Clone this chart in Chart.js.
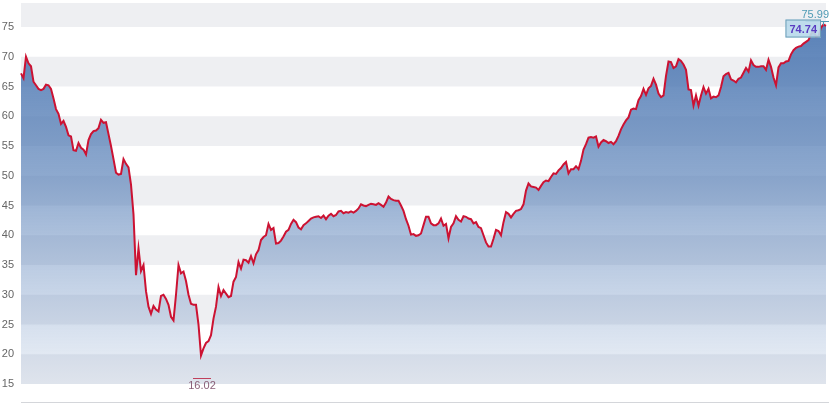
<!DOCTYPE html>
<html>
<head>
<meta charset="utf-8">
<script src="https://cdn.jsdelivr.net/npm/chart.js@4.4.1/dist/chart.umd.min.js"></script>
<style>
  html, body { margin: 0; padding: 0; background: #fff; }
  #wrap { width: 830px; height: 409px; }
</style>
</head>
<body>
<div id="wrap"><canvas id="chart" width="830" height="409"></canvas></div>
<script>
// closing prices, one per session
const prices = [
  67.2, 66.4, 70.0, 68.9, 68.4, 65.8, 65.2, 64.6, 64.4, 64.6,
  65.3, 65.2, 64.6, 63.0, 61.2, 60.4, 58.7, 59.2, 58.2, 56.8,
  56.6, 54.3, 54.2, 55.5, 54.7, 54.4, 53.6, 56.0, 57.0, 57.5,
  57.6, 58.0, 59.4, 58.9, 59.0, 57.0, 55.0, 52.8, 50.5, 50.2,
  50.3, 52.8, 52.0, 51.4, 48.5, 43.5, 33.3, 37.8, 34.0, 35.0,
  30.6, 28.0, 26.8, 28.1, 27.5, 27.2, 29.8, 30.0, 29.3, 28.3,
  26.3, 25.7, 30.0, 35.0, 33.6, 33.9, 32.3, 30.0, 28.5, 28.3,
  28.3, 25.0, 19.8, 21.0, 21.9, 22.2, 23.2, 26.0, 28.0, 31.3,
  29.8, 30.8, 30.2, 29.6, 29.8, 32.2, 33.0, 35.5, 34.4, 35.9,
  35.8, 35.4, 36.5, 35.3, 36.8, 37.5, 39.2, 39.7, 40.0, 41.9,
  40.9, 41.2, 38.6, 38.7, 39.1, 39.8, 40.6, 40.9, 41.9, 42.6,
  42.2, 41.3, 41.0, 41.7, 42.0, 42.4, 42.8, 43.0, 43.1, 43.2,
  42.9, 43.3, 42.7, 43.3, 43.6, 43.2, 43.4, 44.0, 44.1, 43.7,
  43.9, 43.8, 44.0, 43.8, 44.1, 44.5, 45.2, 45.0, 44.9, 45.1,
  45.3, 45.2, 45.1, 45.4, 45.1, 44.8, 45.5, 46.5, 46.1, 45.9,
  45.8, 45.8, 45.0, 44.1, 42.7, 41.6, 40.1, 40.2, 39.9, 40.0,
  40.3, 41.7, 43.1, 43.1, 42.0, 41.7, 41.7, 42.0, 42.8, 41.6,
  41.9, 39.5, 41.4, 42.0, 43.2, 42.6, 42.3, 43.2, 43.1, 42.8,
  42.7, 42.0, 42.2, 41.4, 41.2, 40.0, 38.8, 38.1, 38.1, 39.4,
  40.9, 40.7, 40.0, 42.2, 43.9, 43.6, 43.0, 43.6, 44.1, 44.2,
  44.4, 45.2, 47.5, 48.7, 48.2, 48.1, 48.0, 47.6, 48.3, 48.9,
  49.2, 49.1, 49.8, 50.4, 50.3, 50.9, 51.3, 51.9, 52.3, 50.4,
  51.1, 51.1, 51.6, 51.1, 52.5, 54.4, 55.3, 56.4, 56.5, 56.4,
  56.6, 54.9, 55.6, 56.0, 55.8, 55.5, 55.7, 55.3, 55.8, 56.7,
  57.8, 58.6, 59.3, 59.8, 61.1, 61.3, 61.2, 62.7, 63.4, 64.6,
  63.6, 64.7, 65.1, 66.3, 65.3, 63.8, 63.2, 63.5, 66.8, 69.2,
  69.1, 68.1, 68.4, 69.6, 69.3, 68.7, 67.8, 64.5, 64.4, 61.8,
  63.5, 61.8, 63.5, 64.9, 63.8, 64.6, 63.0, 63.3, 63.2, 63.5,
  64.9, 66.7, 67.1, 67.3, 66.2, 66.0, 65.7, 66.3, 66.5, 67.3,
  68.1, 67.5, 69.4, 68.6, 68.3, 68.3, 68.4, 68.4, 67.8, 69.5,
  68.3, 66.5, 65.2, 68.2, 68.9, 68.9, 69.2, 69.3, 70.4, 71.1,
  71.5, 71.7, 71.8, 72.2, 72.5, 72.8, 73.8, 74.4, 73.4, 73.5,
  74.9, 75.4, 75.2
];
const sessions = prices.map((_, i) => i);
const yTicks = [15, 20, 25, 30, 35, 40, 45, 50, 55, 60, 65, 70, 75];
const periodHigh = 75.99;
const periodLow = 16.02;
const lastPrice = 74.74;

const FONT = "'Liberation Sans', Arial, sans-serif";

const decor = {
  id: "decor",
  beforeDatasetsDraw(chart) {
    const { ctx, chartArea: a, scales: { y } } = chart;
    ctx.save();
    ctx.fillStyle = "#eeeff2";
    for (let i = 0; i < yTicks.length; i += 2) {
      const lo = yTicks[i];
      const top = Math.max(y.getPixelForValue(lo + 5), a.top);
      const bot = y.getPixelForValue(lo);
      ctx.fillRect(a.left, top, a.right - a.left, bot - top);
    }
    ctx.restore();
  },
  afterDatasetsDraw(chart) {
    const { ctx, chartArea: a, scales: { x, y } } = chart;
    ctx.save();
    // bottom rule
    ctx.strokeStyle = "#d4d6da";
    ctx.lineWidth = 1;
    ctx.beginPath();
    ctx.moveTo(a.left, a.bottom - 0.5);
    ctx.lineTo(chart.width - 1, a.bottom - 0.5);
    ctx.stroke();

    // period low
    const iLow = prices.indexOf(Math.min(...prices));
    const lx = x.getPixelForValue(iLow) + 1;
    const ly = Math.round(y.getPixelForValue(periodLow)) + 0.5;
    ctx.strokeStyle = "#c0405c";
    ctx.beginPath();
    ctx.moveTo(lx - 9, ly);
    ctx.lineTo(lx + 9, ly);
    ctx.stroke();
    ctx.font = "11px " + FONT;
    ctx.fillStyle = "#8a6078";
    ctx.textAlign = "center";
    ctx.textBaseline = "top";
    ctx.fillText(periodLow.toFixed(2), lx, ly + 2);

    // period high
    const iHigh = prices.indexOf(Math.max(...prices));
    const hx = x.getPixelForValue(iHigh);
    const hy = Math.round(y.getPixelForValue(periodHigh)) + 0.5;
    ctx.strokeStyle = "#4f9bb5";
    ctx.beginPath();
    ctx.moveTo(hx - 18, hy);
    ctx.lineTo(chart.width - 1, hy);
    ctx.moveTo(hx, hy);
    ctx.lineTo(hx, hy + 4);
    ctx.stroke();
    ctx.fillStyle = "#4f9bb5";
    ctx.textAlign = "right";
    ctx.textBaseline = "bottom";
    ctx.fillText(periodHigh.toFixed(2), chart.width - 1, hy - 1);

    // last price box
    const lastX = x.getPixelForValue(prices.length - 1);
    const by = y.getPixelForValue(lastPrice);
    ctx.font = "bold 11px " + FONT;
    const w = ctx.measureText(lastPrice.toFixed(2)).width + 8;
    const bx = lastX - 5 - w;
    ctx.fillStyle = "rgba(186,218,236,0.92)";
    ctx.strokeStyle = "#6f9fb8";
    ctx.fillRect(bx, by - 9, w, 18);
    ctx.strokeRect(bx + 0.5, by - 9 + 0.5, w - 1, 17);
    ctx.fillStyle = "#5a3cc2";
    ctx.textAlign = "left";
    ctx.textBaseline = "middle";
    ctx.fillText(lastPrice.toFixed(2), bx + 4, by + 1);
    ctx.restore();
  },
};

new Chart(document.getElementById("chart"), {
  type: "line",
  data: {
    labels: sessions,
    datasets: [
      {
        data: prices,
        borderColor: "#cc1232",
        borderWidth: 2,
        pointRadius: 0,
        tension: 0,
        fill: { value: 15 },
        backgroundColor: (c) => {
          const { ctx, chartArea, scales } = c.chart;
          if (!chartArea) return "rgba(80,120,175,0.6)";
          const g = ctx.createLinearGradient(0, chartArea.top, 0, scales.y.getPixelForValue(15));
          g.addColorStop(0, "rgba(72,116,176,0.95)");
          g.addColorStop(0.45, "rgba(80,122,180,0.65)");
          g.addColorStop(1, "rgba(110,145,195,0.12)");
          return g;
        },
      },
    ],
  },
  options: {
    responsive: false,
    animation: false,
    events: [],
    layout: { padding: { top: 3, right: 4, bottom: 6, left: 0 } },
    plugins: { legend: { display: false }, tooltip: { enabled: false } },
    scales: {
      x: { display: false, offset: false },
      y: {
        min: 11.81,
        max: 79.03,
        grid: { display: false, drawTicks: false },
        border: { display: false },
        afterFit: (s) => { s.width = 21; s.paddingTop = 0; s.paddingBottom = 0; },
        afterBuildTicks: (s) => { s.ticks = yTicks.map((v) => ({ value: v })); },
        ticks: { color: "#666", padding: 7, font: { size: 11, family: FONT } },
      },
    },
  },
  plugins: [decor],
});
</script>
</body>
</html>
